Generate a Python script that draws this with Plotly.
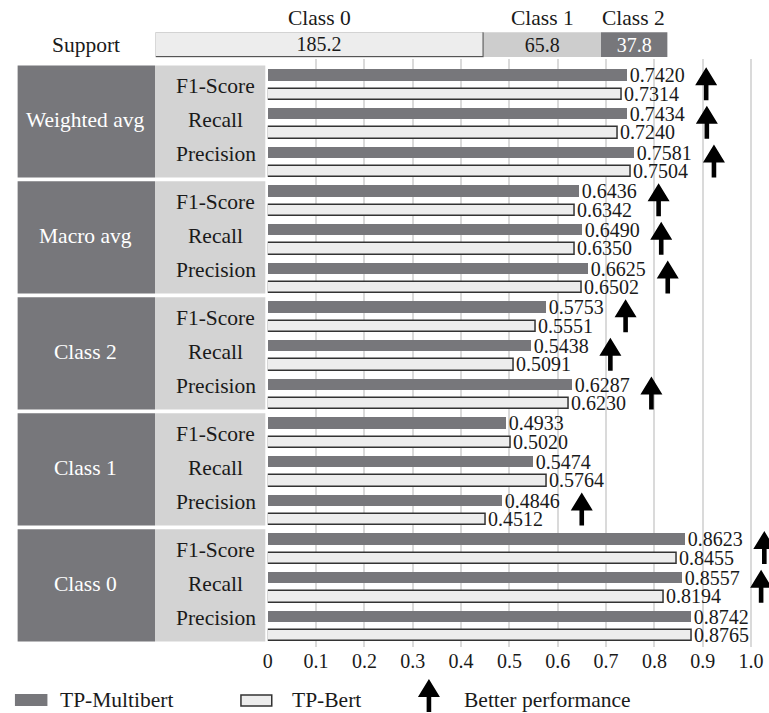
import numpy as np
import plotly.graph_objects as go

# ---------------- data ----------------
groups = ["Weighted avg", "Macro avg", "Class 2", "Class 1", "Class 0"]
metrics = ["F1-Score", "Recall", "Precision"]
multibert = [
    [0.7420, 0.7434, 0.7581],
    [0.6436, 0.6490, 0.6625],
    [0.5753, 0.5438, 0.6287],
    [0.4933, 0.5474, 0.4846],
    [0.8623, 0.8557, 0.8742],
]
bert = [
    [0.7314, 0.7240, 0.7504],
    [0.6342, 0.6350, 0.6502],
    [0.5551, 0.5091, 0.6230],
    [0.5020, 0.5764, 0.4512],
    [0.8455, 0.8194, 0.8765],
]
support_classes = ["Class 0", "Class 1", "Class 2"]
support_values = [185.2, 65.8, 37.8]
x_ticks = [0, 0.1, 0.2, 0.3, 0.4, 0.5, 0.6, 0.7, 0.8, 0.9, 1.0]
x_tick_labels = ["0", "0.1", "0.2", "0.3", "0.4", "0.5", "0.6", "0.7", "0.8", "0.9", "1.0"]
series_names = ["TP-Multibert", "TP-Bert", "Better performance"]

# ---------------- style ----------------
W, H = 769, 713
FONT = "Liberation Serif"
FS = 20      # values and ticks
FSL = 21.5   # table / legend labels
DARK = "#77777b"
LIGHT_BOX = "#d3d3d3"
LIGHT_BAR = "#ededed"
OUTLINE = "#333333"
TXT = "#1a1a1a"
ARROW_OFFSET = 0.165


def px(v):
    return v / W


def py(v):
    return (H - v) / H


def label(text, xref, yref, x, y, color=TXT, xanchor="center", size=FSL):
    return dict(text=text, xref=xref, yref=yref, x=x, y=y, xanchor=xanchor,
                yanchor="middle", showarrow=False,
                font=dict(family=FONT, size=size, color=color))


# row positions (one row per bar)
dark_y, light_y, dark_x, light_x = [], [], [], []
for g in range(len(groups)):
    for m in range(len(metrics)):
        dark_y.append(g * 6 + m * 2)
        light_y.append(g * 6 + m * 2 + 1)
        dark_x.append(multibert[g][m])
        light_x.append(bert[g][m])

fig = go.Figure()

fig.add_trace(go.Bar(
    x=dark_x, y=dark_y, orientation="h", width=0.58,
    marker=dict(color=DARK, line=dict(width=0)),
    text=[f"{v:.4f}" for v in dark_x], textposition="outside",
    textfont=dict(family=FONT, size=FS, color=TXT),
    constraintext="none", cliponaxis=False, name=series_names[0],
    xaxis="x", yaxis="y",
))
fig.add_trace(go.Bar(
    x=light_x, y=light_y, orientation="h", width=0.58,
    marker=dict(color=LIGHT_BAR, line=dict(width=1.5, color=OUTLINE)),
    text=[f"{v:.4f}" for v in light_x], textposition="outside",
    textfont=dict(family=FONT, size=FS, color=TXT),
    constraintext="none", cliponaxis=False, name=series_names[1],
    xaxis="x", yaxis="y",
))

# support stacked bar
bases = np.concatenate([[0], np.cumsum(support_values)[:-1]])
sup_fill = [LIGHT_BAR, "#cdcdcd", DARK]
sup_line = [dict(width=1.2, color="#555555"), dict(width=0), dict(width=0)]
sup_txt = [TXT, TXT, "white"]
for i, (c, v) in enumerate(zip(support_classes, support_values)):
    fig.add_trace(go.Bar(
        x=[v], y=[0], base=[bases[i]], orientation="h", width=1,
        marker=dict(color=sup_fill[i], line=sup_line[i]),
        text=[f"{v:.1f}"], textposition="inside", insidetextanchor="middle",
        textfont=dict(family=FONT, size=FS, color=sup_txt[i]),
        constraintext="none", name=c, xaxis="x2", yaxis="y2",
    ))

shapes = []
annotations = []

# left table boxes
for g, name in enumerate(groups):
    y0, y1 = g * 6 - 0.5, g * 6 + 5.3
    shapes.append(dict(type="rect", xref="paper", yref="y", x0=px(12.7), x1=px(151),
                       y0=y0, y1=y1, fillcolor=DARK, line=dict(width=0), layer="below"))
    shapes.append(dict(type="rect", xref="paper", yref="y", x0=px(151), x1=px(262),
                       y0=y0, y1=y1, fillcolor=LIGHT_BOX, line=dict(width=0), layer="below"))
    annotations.append(label(name, "paper", "y", px(81), g * 6 + 2.35, color="white"))
    for m, met in enumerate(metrics):
        annotations.append(label(met, "paper", "y", px(212), g * 6 + m * 1.75 + 0.58))

# arrow path (pixels around anchor, positive = up)
ARROW = "M -2.3,-15.5 L 2.3,-15.5 L 2.3,-0.5 L 11,-0.5 L 0,17.5 L -11,-0.5 L -2.3,-0.5 Z"
for g in range(len(groups)):
    for m in range(len(metrics)):
        a, b = multibert[g][m], bert[g][m]
        if a > b:
            shapes.append(dict(type="path", xref="x", yref="y", xsizemode="pixel",
                               ysizemode="pixel", xanchor=max(a, b) + ARROW_OFFSET,
                               yanchor=g * 6 + m * 2 + 0.5, path=ARROW,
                               fillcolor="black", line=dict(width=0)))

# support labels
annotations.append(label("Support", "paper", "paper", px(82), py(45)))
for i, c in enumerate(support_classes):
    annotations.append(label(c, "x2", "paper", bases[i] + support_values[i] / 2, py(18)))

# legend
shapes.append(dict(type="rect", xref="paper", yref="paper", x0=px(10), x1=px(42.7),
                   y0=py(706), y1=py(694), fillcolor=DARK, line=dict(width=0)))
shapes.append(dict(type="rect", xref="paper", yref="paper", x0=px(237.5), x1=px(268.5),
                   y0=py(706), y1=py(695), fillcolor=LIGHT_BAR, line=dict(width=1.5, color=OUTLINE)))
shapes.append(dict(type="path", xref="paper", yref="paper", xsizemode="pixel", ysizemode="pixel",
                   xanchor=px(426.7), yanchor=py(696.5), path=ARROW,
                   fillcolor="black", line=dict(width=0)))
for xpos, t in zip([53, 287, 460], series_names):
    annotations.append(label(t, "paper", "paper", px(xpos), py(700), xanchor="left"))

x0pix, unit = 264.5, 486.5
fig.update_layout(
    width=W, height=H, margin=dict(l=0, r=0, t=0, b=0),
    paper_bgcolor="white", plot_bgcolor="white", showlegend=False,
    barmode="overlay", bargap=0,
    font=dict(family=FONT, size=FS, color=TXT),
    xaxis=dict(domain=[px(x0pix), 1], range=[0, (W - x0pix) / unit],
               tickvals=x_ticks, ticktext=x_tick_labels, showgrid=True,
               gridcolor="#dadada", gridwidth=1.5, zeroline=False, showline=False,
               ticks="", tickfont=dict(family=FONT, size=FS, color=TXT), fixedrange=True),
    yaxis=dict(domain=[py(647), py(59)], range=[29.59, -0.83], showgrid=False,
               zeroline=False, showticklabels=False, showline=False, fixedrange=True),
    xaxis2=dict(domain=[px(151.7), px(666.7)], range=[0, float(sum(support_values))],
                anchor="y2", visible=False, fixedrange=True),
    yaxis2=dict(domain=[py(57.7), py(32.3)], range=[-0.5, 0.5], anchor="x2",
                visible=False, fixedrange=True),
    shapes=shapes, annotations=annotations,
)

fig.write_html(
    "out.html",
    config={"displayModeBar": False},
    post_script="document.body.style.margin='0px';document.body.style.overflow='hidden';",
)
